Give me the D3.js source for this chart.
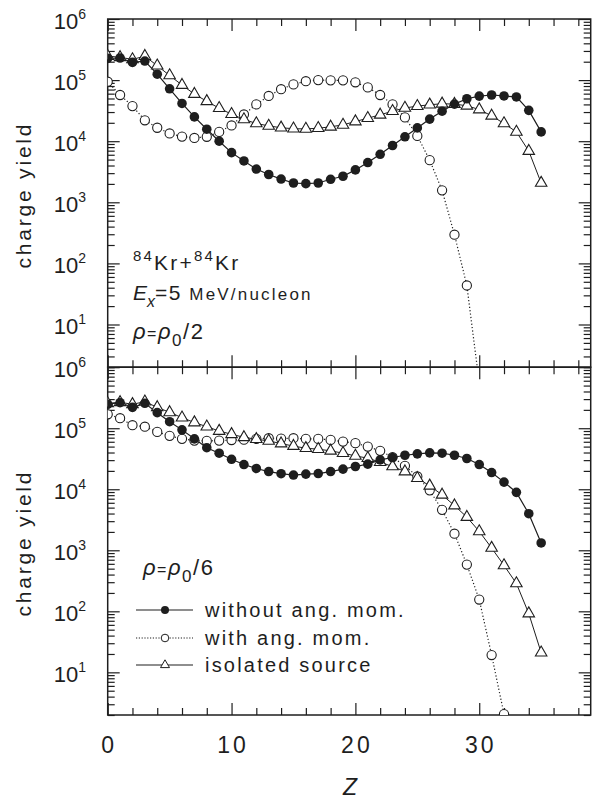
<!DOCTYPE html>
<html><head><meta charset="utf-8">
<script src="https://cdn.jsdelivr.net/npm/d3@7"></script>
<style>
body{margin:0;background:#fff}
text{font-family:"Liberation Sans",Arial,sans-serif;fill:#1e1e1e}
</style>
</head><body>
<svg id="c" width="596" height="800"></svg>
<script>
// ---------- data ----------
const zFull = d3.range(0, 36);
const zTopWith = d3.range(0, 31);
const zBotWith = d3.range(0, 33);

const topWithout = [2.27e5,2.3e5,1.95e5,2.05e5,1.25e5,7.2e4,4.15e4,2.5e4,1.57e4,1.0e4,6.5e3,4.75e3,3.5e3,2.85e3,2.4e3,2.07e3,2.02e3,2.07e3,2.38e3,2.67e3,3.39e3,4.47e3,6.1e3,8.5e3,1.18e4,1.65e4,2.3e4,3.1e4,4.05e4,4.95e4,5.47e4,5.7e4,5.5e4,5.3e4,3.2e4,1.42e4];
const topIsolated = [2.47e5,2.36e5,2.18e5,2.47e5,1.72e5,1.19e5,8.3e4,5.9e4,4.5e4,3.47e4,2.77e4,2.27e4,1.95e4,1.78e4,1.66e4,1.6e4,1.59e4,1.63e4,1.72e4,1.85e4,2.1e4,2.38e4,2.7e4,3.1e4,3.5e4,3.75e4,3.95e4,4.1e4,4.05e4,3.8e4,3.3e4,2.6e4,1.95e4,1.42e4,6.9e3,2.07e3];
const topWith = [9.4e4,5.7e4,3.75e4,2.2e4,1.66e4,1.34e4,1.19e4,1.13e4,1.18e4,1.42e4,1.81e4,2.74e4,4.0e4,5.5e4,7.1e4,8.5e4,9.6e4,1.0e5,9.9e4,9.9e4,9.2e4,7.6e4,5.7e4,4.0e4,2.45e4,1.22e4,4.9e3,1.57e3,295,43.5,1.1];

const botWithout = [2.47e5,2.62e5,2.2e5,2.56e5,1.8e5,1.28e5,9.4e4,6.7e4,4.8e4,3.9e4,3.1e4,2.54e4,2.19e4,1.95e4,1.8e4,1.71e4,1.77e4,1.81e4,1.95e4,2.14e4,2.36e4,2.58e4,3.03e4,3.31e4,3.61e4,3.8e4,3.95e4,3.9e4,3.61e4,3.19e4,2.54e4,1.88e4,1.31e4,8.9e3,3.98e3,1.32e3];
const botIsolated = [2.56e5,2.66e5,2.47e5,2.72e5,2.2e5,1.82e5,1.49e5,1.24e5,1.06e5,9.0e4,7.96e4,7.1e4,6.6e4,6.2e4,5.6e4,5.1e4,4.7e4,4.54e4,4.26e4,3.9e4,3.52e4,3.23e4,2.78e4,2.36e4,1.95e4,1.52e4,1.14e4,8.1e3,5.4e3,3.5e3,2.04e3,1.09e3,566,286,92,21];
const botWith = [1.69e5,1.46e5,1.12e5,1.06e5,8.7e4,7.5e4,6.7e4,6.27e4,6.2e4,6.27e4,6.4e4,6.5e4,6.7e4,6.86e4,6.76e4,6.86e4,6.68e4,6.68e4,6.44e4,6.04e4,5.69e4,5.0e4,4.26e4,3.36e4,2.42e4,1.62e4,9.6e3,4.6e3,1.87e3,583,156,19.2,2.07];

const xMajorTicks = [0, 10, 20, 30];
const xMinorTicks = [2,4,6,8,12,14,16,18,22,24,26,28,32,34,36,38];
const yDecades = [1e1, 1e2, 1e3, 1e4, 1e5, 1e6];
const yDecadeExp = ["1","2","3","4","5","6"];
const legendLabels = ["without ang. mom.", "with ang. mom.", "isolated source"];

// ---------- layout ----------
const svg = d3.select("#c");
const X0 = 107.7, X1 = 590.7;
const x = d3.scaleLinear().domain([0, 39]).range([X0, X1]);
const ink = "#1e1e1e";

const yMinors = [];
for (let e = 0; e <= 5; e++) for (let m = 2; m <= 9; m++) { const v = m * Math.pow(10, e); if (v >= 2 && v < 1e6) yMinors.push(v); }

function triPath(s) {
  const h = s * Math.sqrt(3) / 2;
  return `M0,${-2*h/3}L${s/2},${h/3}L${-s/2},${h/3}Z`;
}

function panel(top, bottom, withoutV, withV, zWith, isoV, id) {
  const y = d3.scaleLog().domain([2, 1e6]).range([bottom, top]);
  const g = svg.append("g");
  g.append("clipPath").attr("id", id).append("rect")
    .attr("x", X0).attr("y", top).attr("width", X1 - X0).attr("height", bottom - top);

  const axes = [
    [d3.axisBottom(x).tickValues(xMajorTicks).tickSize(-12), bottom],
    [d3.axisBottom(x).tickValues(xMinorTicks).tickSize(-7), bottom],
    [d3.axisTop(x).tickValues(xMajorTicks).tickSize(-12), top],
    [d3.axisTop(x).tickValues(xMinorTicks).tickSize(-7), top]
  ];
  axes.forEach(([ax, ty]) => {
    const a = g.append("g").attr("transform", `translate(0,${ty})`).call(ax.tickFormat(""));
    a.select(".domain").remove();
    a.selectAll("line").attr("stroke", ink).attr("stroke-width", 1.2);
  });
  const yaxes = [
    [d3.axisLeft(y).tickValues(yDecades).tickSize(-12), X0],
    [d3.axisLeft(y).tickValues(yMinors).tickSize(-7), X0],
    [d3.axisRight(y).tickValues(yDecades).tickSize(-12), X1],
    [d3.axisRight(y).tickValues(yMinors).tickSize(-7), X1]
  ];
  yaxes.forEach(([ax, tx]) => {
    const a = g.append("g").attr("transform", `translate(${tx},0)`).call(ax.tickFormat(""));
    a.select(".domain").remove();
    a.selectAll("line").attr("stroke", ink).attr("stroke-width", 1.2);
  });

  g.append("rect").attr("x", X0).attr("y", top).attr("width", X1 - X0).attr("height", bottom - top)
    .attr("fill", "none").attr("stroke", ink).attr("stroke-width", 1.5);

  yDecades.forEach((v, i) => {
    const t = g.append("text").attr("x", 86).attr("y", y(v) + 9.5)
      .attr("text-anchor", "end").attr("font-size", 22);
    t.append("tspan").text("10");
    t.append("tspan").attr("font-size", 14).attr("dy", -10).text(yDecadeExp[i]);
  });

  g.append("text").attr("transform", `translate(31,${(top + bottom) / 2 + 2}) rotate(-90)`)
    .attr("text-anchor", "middle").attr("font-size", 21).attr("letter-spacing", 2.8)
    .text("charge yield");

  const data = g.append("g").attr("clip-path", `url(#${id})`);
  const line = (vals, zs) => d3.line().x((d, i) => x(zs[i])).y(d => y(d))(vals);

  data.append("path").attr("d", line(withV, zWith)).attr("fill", "none")
    .attr("stroke", ink).attr("stroke-width", 1.2).attr("stroke-dasharray", "1.2,2.2");
  data.append("path").attr("d", line(isoV, zFull)).attr("fill", "none")
    .attr("stroke", ink).attr("stroke-width", 1);
  data.append("path").attr("d", line(withoutV, zFull)).attr("fill", "none")
    .attr("stroke", ink).attr("stroke-width", 1.2);

  data.selectAll(".oc").data(withV).enter().append("circle")
    .attr("cx", (d, i) => x(zWith[i])).attr("cy", d => y(d)).attr("r", 4.6)
    .attr("fill", "#fff").attr("stroke", ink).attr("stroke-width", 1.1);
  data.selectAll(".tr").data(isoV).enter().append("path")
    .attr("transform", (d, i) => `translate(${x(zFull[i])},${y(d)})`)
    .attr("d", triPath(11.5)).attr("fill", "#fff").attr("stroke", ink).attr("stroke-width", 1.1);
  data.selectAll(".fc").data(withoutV).enter().append("circle")
    .attr("cx", (d, i) => x(zFull[i])).attr("cy", d => y(d)).attr("r", 4.8)
    .attr("fill", ink);
  return y;
}

panel(19, 367.2, topWithout, topWith, zTopWith, topIsolated, "clipTop");
panel(367.2, 715, botWithout, botWith, zBotWith, botIsolated, "clipBot");

xMajorTicks.forEach(v => {
  svg.append("text").attr("x", x(v) + 1.5).attr("y", 753).attr("text-anchor", "middle")
    .attr("font-size", 23).attr("letter-spacing", 3).text(v);
});
svg.append("text").attr("x", 350).attr("y", 795).attr("text-anchor", "middle")
  .attr("font-size", 23).attr("font-style", "italic").text("Z");

// annotations top panel
const a1 = svg.append("text").attr("x", 133).attr("y", 270).attr("font-size", 21).attr("letter-spacing", 2.2);
a1.append("tspan").attr("font-size", 15).attr("dy", -9).text("84");
a1.append("tspan").attr("dy", 9).text("Kr+");
a1.append("tspan").attr("font-size", 15).attr("dy", -9).text("84");
a1.append("tspan").attr("dy", 9).text("Kr");

const a2 = svg.append("text").attr("x", 133).attr("y", 300).attr("font-size", 21);
a2.append("tspan").attr("font-style", "italic").text("E");
a2.append("tspan").attr("font-style", "italic").attr("font-size", 16).attr("dy", 7).text("x");
a2.append("tspan").attr("dy", -7).attr("letter-spacing", 1.5).text("=5 ");
a2.append("tspan").attr("font-size", 17).attr("letter-spacing", 2.2).text("MeV/nucleon");

function rhoText(xp, yp, den) {
  const t = svg.append("text").attr("x", xp).attr("y", yp).attr("font-size", 22).attr("letter-spacing", 1.5);
  t.append("tspan").attr("font-style", "italic").text("ρ");
  t.append("tspan").attr("font-size", 16).text("=");
  t.append("tspan").attr("font-style", "italic").text("ρ");
  t.append("tspan").attr("font-size", 17).attr("dy", 7).text("0");
  t.append("tspan").attr("dy", -7).text("/" + den);
}
rhoText(133, 339, "2");
rhoText(143, 575, "6");

// legend
const legY = [610, 638, 665];
const legStyles = ["filled", "open", "tri"];
legStyles.forEach((s, i) => {
  const ly = legY[i];
  svg.append("line").attr("x1", 136).attr("x2", 193).attr("y1", ly).attr("y2", ly)
    .attr("stroke", ink).attr("stroke-width", 1.1)
    .attr("stroke-dasharray", s === "open" ? "1.2,1.6" : null);
  if (s === "filled") svg.append("circle").attr("cx", 165).attr("cy", ly).attr("r", 4).attr("fill", ink);
  if (s === "open") svg.append("circle").attr("cx", 165).attr("cy", ly).attr("r", 3.8).attr("fill", "#fff").attr("stroke", ink).attr("stroke-width", 1);
  if (s === "tri") svg.append("path").attr("transform", `translate(165,${ly})`).attr("d", triPath(9))
    .attr("fill", "#fff").attr("stroke", ink).attr("stroke-width", 1);
  svg.append("text").attr("x", 205).attr("y", ly + 7).attr("font-size", 20)
    .attr("letter-spacing", 2.2).text(legendLabels[i]);
});
</script>
</body></html>
